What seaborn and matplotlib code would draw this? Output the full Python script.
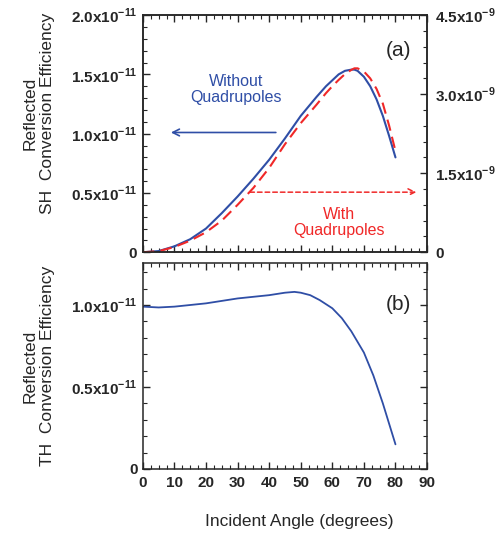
import numpy as np
import pandas as pd
import matplotlib
matplotlib.use("Agg")
import matplotlib.pyplot as plt
from matplotlib.ticker import MultipleLocator, FuncFormatter
import seaborn as sns

# incident angle (degrees) for the SH curves
angle_sh = [0, 5, 10, 15, 20, 25, 30, 35, 40, 45, 50, 55, 58, 60, 62, 64, 66, 67, 68,
            70, 72, 74, 76, 78, 80]
# SH without quadrupoles (x1e-11, left axis)
sh_without = [0.0, 0.01, 0.05, 0.11, 0.20, 0.33, 0.47, 0.62, 0.78, 0.96, 1.15, 1.31, 1.40,
              1.45, 1.50, 1.53, 1.54, 1.54, 1.53, 1.48, 1.40, 1.29, 1.15, 0.98, 0.80]
# SH with quadrupoles (x1e-9, right axis)
sh_with = [0.0, 0.02, 0.10, 0.22, 0.38, 0.60, 0.90, 1.22, 1.60, 2.05, 2.45, 2.80, 3.02,
           3.15, 3.27, 3.38, 3.46, 3.49, 3.49, 3.43, 3.30, 3.10, 2.82, 2.40, 1.92]

# TH curve (x1e-11)
angle_th = [0, 5, 10, 15, 20, 25, 30, 35, 40, 45, 48, 50, 53, 56, 60, 63, 66, 70, 73, 76, 80]
th_eff = [0.99, 0.985, 0.99, 1.0, 1.01, 1.025, 1.04, 1.05, 1.06, 1.075, 1.08, 1.075, 1.06,
          1.03, 0.98, 0.92, 0.84, 0.71, 0.57, 0.40, 0.15]

# tick positions
x_ticks = [0, 10, 20, 30, 40, 50, 60, 70, 80, 90]
sh_left_ticks = [0, 0.5e-11, 1.0e-11, 1.5e-11, 2.0e-11]
sh_right_ticks = [0, 1.5e-9, 3.0e-9, 4.5e-9]
th_ticks = [0, 0.5e-11, 1.0e-11]

df_sh = pd.DataFrame({"angle": angle_sh,
                      "without": np.array(sh_without) * 1e-11,
                      "with": np.array(sh_with) * 1e-9})
df_th = pd.DataFrame({"angle": angle_th, "th": np.array(th_eff) * 1e-11})

sns.set_style("ticks")
plt.rcParams["font.family"] = ["Liberation Sans", "DejaVu Sans"]
plt.rcParams["mathtext.fontset"] = "custom"
plt.rcParams["mathtext.rm"] = "Liberation Sans"
plt.rcParams["mathtext.bf"] = "Liberation Sans:bold"
plt.rcParams["axes.linewidth"] = 1.1
plt.rcParams["xtick.direction"] = "in"
plt.rcParams["ytick.direction"] = "in"

BLUE = "#2f4ea6"
RED = "#f02828"
TICK_FS = 11


def sci_fmt(exp, scale):
    def f(v, pos):
        if abs(v) < 1e-30:
            return "0"
        return "%.1fx10$^{\\mathbf{%d}}$" % (v / scale, exp)
    return FuncFormatter(f)


def style_ticks(ax):
    ax.tick_params(which="major", length=5, width=1.0)
    ax.tick_params(which="minor", length=3, width=0.8)
    for lab in ax.get_xticklabels() + ax.get_yticklabels():
        lab.set_fontweight("bold")


fig = plt.figure(figsize=(5.03, 5.39), dpi=100)
ax1 = fig.add_axes([0.284, 0.532, 0.565, 0.440])
ax3 = fig.add_axes([0.284, 0.130, 0.565, 0.382])

# ---- panel (a)
sns.lineplot(data=df_sh, x="angle", y="without", ax=ax1, color=BLUE, lw=1.5)
ax2 = ax1.twinx()
sns.lineplot(data=df_sh, x="angle", y="with", ax=ax2, color=RED, lw=1.5,
             linestyle=(0, (5.5, 3)))

ax1.set_xlim(0, 90)
ax1.set_ylim(0, 2.0e-11)
ax2.set_ylim(0, 4.5e-9)
ax1.set_xticks(x_ticks)
ax1.xaxis.set_minor_locator(MultipleLocator(2.5))
ax1.set_yticks(sh_left_ticks)
ax1.yaxis.set_minor_locator(MultipleLocator(0.1e-11))
ax2.set_yticks(sh_right_ticks)
ax2.yaxis.set_minor_locator(MultipleLocator(0.3e-9))
ax1.yaxis.set_major_formatter(sci_fmt(-11, 1e-11))
ax2.yaxis.set_major_formatter(sci_fmt(-9, 1e-9))
ax1.set_xlim(0, 90)
ax1.set_ylim(0, 2.0e-11)
ax2.set_ylim(0, 4.5e-9)
ax1.tick_params(axis="x", which="both", top=True, labelbottom=False)
ax1.tick_params(axis="y", which="both", labelsize=TICK_FS, pad=4)
ax2.tick_params(axis="y", which="both", labelsize=TICK_FS, pad=6)
ax1.set_xlabel("")
ax2.set_ylabel("")
ax1.set_ylabel("Reflected\nSH  Conversion Efficiency", fontsize=12.5, linespacing=1.15)
ax1.yaxis.set_label_coords(-0.31, 0.585)
style_ticks(ax1)
style_ticks(ax2)

ax1.annotate("", xy=(8, 1.01e-11), xytext=(43, 1.01e-11),
             arrowprops=dict(arrowstyle="->", color=BLUE, lw=1.2,
                             mutation_scale=12))
ax1.text(29.5, 1.375e-11, "Without\nQuadrupoles", color=BLUE, fontsize=11.5,
         ha="center", va="center", linespacing=1.1)
ax2.annotate("", xy=(87.5, 1.14e-9), xytext=(33, 1.14e-9),
             arrowprops=dict(arrowstyle="->", color=RED, lw=1.1, ls=(0, (3, 2)),
                             mutation_scale=12))
ax1.text(62, 0.25e-11, "With\nQuadrupoles", color=RED, fontsize=11.5,
         ha="center", va="center", linespacing=1.1)
ax1.text(0.90, 0.85, "(a)", transform=ax1.transAxes, fontsize=15,
         ha="center", va="center")

# ---- panel (b)
sns.lineplot(data=df_th, x="angle", y="th", ax=ax3, color=BLUE, lw=1.3)
ax3.set_xticks(x_ticks)
ax3.xaxis.set_minor_locator(MultipleLocator(2.5))
ax3.set_yticks(th_ticks)
ax3.yaxis.set_minor_locator(MultipleLocator(0.1e-11))
ax3.yaxis.set_major_formatter(sci_fmt(-11, 1e-11))
ax3.set_xlim(0, 90)
ax3.set_ylim(0, 1.256e-11)
ax3.tick_params(axis="both", which="both", top=True, right=True, labelsize=TICK_FS)
ax3.tick_params(axis="x", pad=5)
ax3.set_xlabel("Incident Angle (degrees)", fontsize=12.5)
ax3.xaxis.set_label_coords(0.55, -0.22)
ax3.set_ylabel("Reflected\nTH  Conversion Efficiency", fontsize=12.5, linespacing=1.15)
ax3.yaxis.set_label_coords(-0.31, 0.5)
style_ticks(ax3)
ax3.text(0.90, 0.80, "(b)", transform=ax3.transAxes, fontsize=15,
         ha="center", va="center")

fig.savefig("out.png", dpi=100)
